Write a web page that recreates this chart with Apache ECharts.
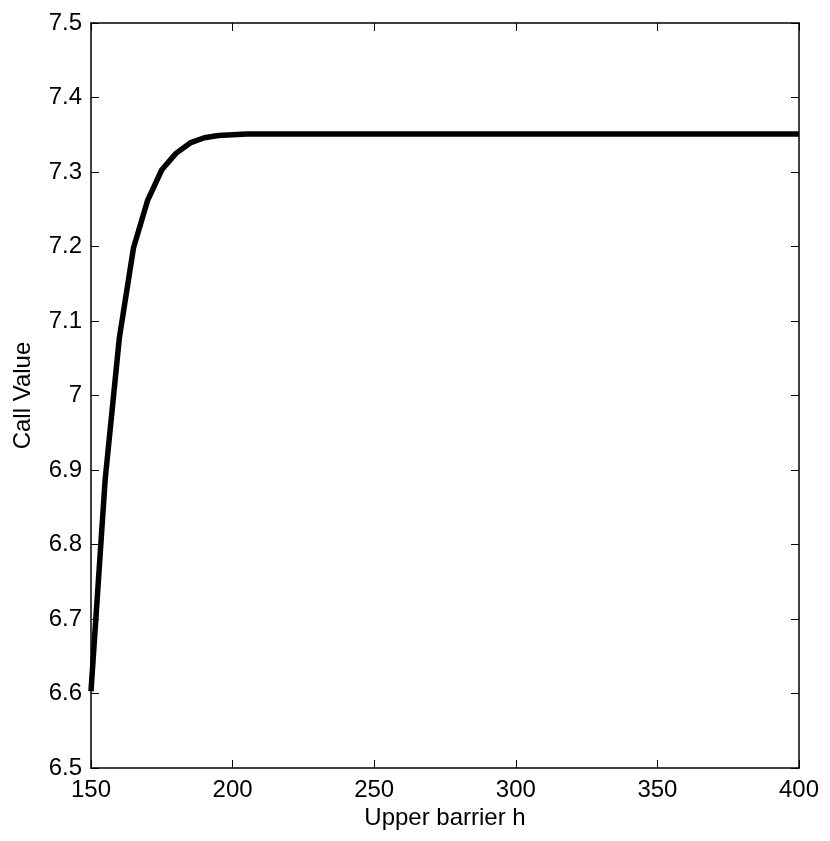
<!DOCTYPE html>
<html>
<head>
<meta charset="utf-8">
<script src="https://cdn.jsdelivr.net/npm/echarts@6/dist/echarts.min.js"></script>
<style>
html,body{margin:0;padding:0;background:#fff;}
#c{width:830px;height:841px;}
</style>
</head>
<body>
<div id="c"></div>
<script>
var barrierH = [150,155,160,165,170,175,180,185,190,195,200,205,210,215,220,225,230,235,240,245,250,255,260,265,270,275,280,285,290,295,300,305,310,315,320,325,330,335,340,345,350,355,360,365,370,375,380,385,390,395,400];
var callValue = [6.603,6.887,7.077,7.198,7.262,7.303,7.325,7.339,7.346,7.349,7.350,7.351,7.351,7.351,7.351,7.351,7.351,7.351,7.351,7.351,7.351,7.351,7.351,7.351,7.351,7.351,7.351,7.351,7.351,7.351,7.351,7.351,7.351,7.351,7.351,7.351,7.351,7.351,7.351,7.351,7.351,7.351,7.351,7.351,7.351,7.351,7.351,7.351,7.351,7.351,7.351];
var xTitle = 'Upper barrier h';
var yTitle = 'Call Value';

var chart = echarts.init(document.getElementById('c'), null, {renderer:'canvas'});
var font = 'Liberation Sans, Arial, Helvetica, sans-serif';
var lineStyle = {color:'#000', width:1.5};
var tick = {show:true, inside:true, length:8, lineStyle:{color:'#000', width:1}};
var data = barrierH.map(function(x,i){return [x, callValue[i]];});
chart.setOption({
  animation:false,
  backgroundColor:'#fff',
  grid:{left:91, right:31, top:23, bottom:73, containLabel:false},
  xAxis:[{
    type:'value', min:150, max:400, interval:50, position:'bottom',
    name:xTitle, nameLocation:'middle', nameGap:38, nameMoveOverlap:false,
    nameTextStyle:{fontFamily:font, fontSize:24, color:'#000'},
    axisLine:{show:true, onZero:false, lineStyle:lineStyle},
    axisTick:tick,
    axisLabel:{fontFamily:font, fontSize:24, color:'#000', margin:10},
    splitLine:{show:false}
  },{
    type:'value', min:150, max:400, interval:50, position:'top',
    axisLine:{show:true, onZero:false, lineStyle:lineStyle},
    axisTick:tick, axisLabel:{show:false}, splitLine:{show:false}
  }],
  yAxis:[{
    type:'value', min:6.5, max:7.5, interval:0.1, position:'left',
    name:yTitle, nameLocation:'middle', nameGap:56, nameRotate:90, nameMoveOverlap:false,
    nameTextStyle:{fontFamily:font, fontSize:24, color:'#000'},
    axisLine:{show:true, onZero:false, lineStyle:lineStyle},
    axisTick:tick,
    axisLabel:{fontFamily:font, fontSize:24, color:'#000', margin:9},
    splitLine:{show:false}
  },{
    type:'value', min:6.5, max:7.5, interval:0.1, position:'right',
    axisLine:{show:true, onZero:false, lineStyle:lineStyle},
    axisTick:tick, axisLabel:{show:false}, splitLine:{show:false}
  }],
  series:[{
    type:'line', data:data, xAxisIndex:0, yAxisIndex:0,
    showSymbol:false, smooth:false,
    lineStyle:{color:'#000', width:5.5, join:'round', cap:'butt'},
    clip:true
  }]
});
</script>
</body>
</html>
